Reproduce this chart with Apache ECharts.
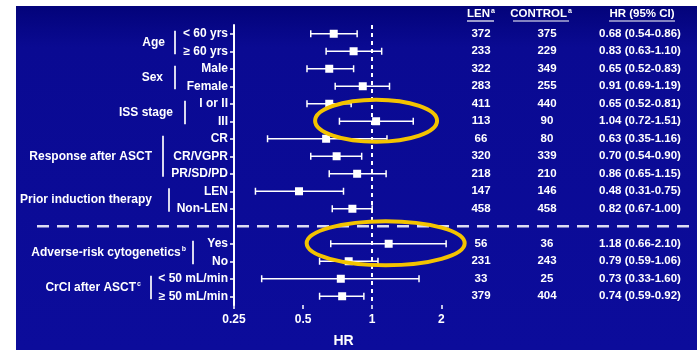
<!DOCTYPE html>
<html>
<head>
<meta charset="utf-8">
<script src="https://cdn.jsdelivr.net/npm/echarts@6/dist/echarts.min.js"></script>
<style>
html,body{margin:0;padding:0;background:#fff;}
#chart{width:697px;height:350px;}
</style>
</head>
<body>
<div id="chart"></div>
<script>
// ---- data ----
const categories = ['< 60 yrs', '≥ 60 yrs', 'Male', 'Female', 'I or II', 'III', 'CR', 'CR/VGPR', 'PR/SD/PD', 'LEN', 'Non-LEN', '', 'Yes', 'No', '< 50 mL/min', '≥ 50 mL/min'];
const hrValues = [0.68, 0.83, 0.65, 0.91, 0.65, 1.04, 0.63, 0.70, 0.86, 0.48, 0.82, null, 1.18, 0.79, 0.73, 0.74];
const ciLow    = [0.54, 0.63, 0.52, 0.69, 0.52, 0.72, 0.35, 0.54, 0.65, 0.31, 0.67, null, 0.66, 0.59, 0.33, 0.59];
const ciHigh   = [0.86, 1.10, 0.83, 1.19, 0.81, 1.51, 1.16, 0.90, 1.15, 0.75, 1.00, null, 2.10, 1.06, 1.60, 0.92];
const lenN     = [372, 233, 322, 283, 411, 113, 66, 320, 218, 147, 458, null, 56, 231, 33, 379];
const controlN = [375, 229, 349, 255, 440, 90, 80, 339, 210, 146, 458, null, 36, 243, 25, 404];
const hrTicks  = [0.25, 0.5, 1, 2];
const groupNames = ['Age', 'Sex', 'ISS stage', 'Response after ASCT', 'Prior induction therapy', 'Adverse-risk cytogenetics', 'CrCl after ASCT'];
const groupSup   = ['', '', '', '', '', 'b', 'c'];
const groupFirst = [0, 2, 4, 6, 9, 12, 14];
const groupLast  = [1, 3, 5, 8, 10, 13, 15];
const highlightedRows = [5, 12];

// ---- layout (pixel positions, not data) ----
const groupLabelRight = [165, 163, 173, 152, 152, 186, 141];
const groupBarX       = [175, 175, 185, 163, 169, 193, 151];
const ellipseSize     = [[61, 21], [79, 22]];
const FONT = '"Liberation Sans", Arial, sans-serif';
const SEP_ROW = 11;

const chart = echarts.init(document.getElementById('chart'));

const fmt = v => v.toFixed(2);
const hrText = categories.map((c, i) => hrValues[i] == null ? '' : fmt(hrValues[i]) + ' (' + fmt(ciLow[i]) + '-' + fmt(ciHigh[i]) + ')');

const forestData = [];
categories.forEach((c, i) => {
  if (hrValues[i] != null) forestData.push([ciLow[i], i, ciHigh[i], hrValues[i]]);
});

function tableAxis(values, offset) {
  return {
    type: 'category', data: categories, inverse: true, position: 'right', offset: offset,
    axisLine: {show: false}, axisTick: {show: false}, splitLine: {show: false},
    axisLabel: {
      interval: 0, margin: 0, align: 'center', color: '#fff', fontWeight: 'bold',
      fontSize: 11.5, fontFamily: FONT,
      formatter: (v, i) => values[i] == null ? '' : String(values[i])
    }
  };
}

chart.setOption({
  backgroundColor: '#ffffff',
  animation: false,
  grid: {left: 234, right: 244, top: 25, bottom: 45, containLabel: false, outerBoundsMode: 'none'},
  xAxis: {
    type: 'log', logBase: 2, min: 0.25, max: 2.25,
    name: 'HR', nameLocation: 'middle', nameGap: 29,
    nameTextStyle: {color: '#fff', fontWeight: 'bold', fontSize: 14, fontFamily: FONT},
    axisLine: {lineStyle: {color: '#fff', width: 2}},
    axisTick: {show: true, length: 4, customValues: hrTicks, lineStyle: {color: '#fff', width: 1.5}},
    axisLabel: {customValues: hrTicks, color: '#fff', fontWeight: 'bold', fontSize: 12, fontFamily: FONT, margin: 9,
      formatter: v => String(v)},
    splitLine: {show: false}, minorTick: {show: false}
  },
  yAxis: [
    {
      type: 'category', data: categories, inverse: true, boundaryGap: true,
      axisLine: {lineStyle: {color: '#fff', width: 2}},
      axisTick: {show: true, length: 4, alignWithLabel: true, interval: (i) => categories[i] !== '', lineStyle: {color: '#fff', width: 1.5}},
      axisLabel: {interval: 0, color: '#fff', fontWeight: 'bold', fontSize: 12, fontFamily: FONT, margin: 6},
      splitLine: {show: false}
    },
    tableAxis(lenN, 28),
    tableAxis(controlN, 94),
    tableAxis(hrText, 187)
  ],
  series: [{
    type: 'custom',
    data: forestData,
    encode: {x: [0, 2, 3], y: 1},
    z: 5,
    renderItem: function (params, api) {
      const row = api.value(1);
      const a = api.coord([api.value(0), row]);
      const b = api.coord([api.value(2), row]);
      const m = api.coord([api.value(3), row]);
      const st = {stroke: '#fff', lineWidth: 1.5};
      const cap = 3.5, sq = 8;
      return {
        type: 'group',
        children: [
          {type: 'line', shape: {x1: a[0], y1: a[1], x2: b[0], y2: b[1]}, style: st},
          {type: 'line', shape: {x1: a[0], y1: a[1] - cap, x2: a[0], y2: a[1] + cap}, style: st},
          {type: 'line', shape: {x1: b[0], y1: b[1] - cap, x2: b[0], y2: b[1] + cap}, style: st},
          {type: 'rect', shape: {x: m[0] - sq / 2, y: m[1] - sq / 2, width: sq, height: sq}, style: {fill: '#fff'}}
        ]
      };
    },
    markLine: {
      silent: true, symbol: 'none', label: {show: false},
      lineStyle: {color: '#fff', width: 2, type: [4, 4]},
      data: [{xAxis: 1}]
    }
  }]
});

// ---- annotations positioned through the axes ----
const rowY = i => chart.convertToPixel({yAxisIndex: 0}, i);
const ptXY = (x, i) => chart.convertToPixel({xAxisIndex: 0, yAxisIndex: 0}, [x, i]);

const graphics = [];
graphics.push({
  type: 'rect', z: -100, silent: true,
  shape: {x: 16, y: 6, width: 681, height: 344},
  style: {fill: new echarts.graphic.LinearGradient(0, 0, 0, 1, [
    {offset: 0, color: '#03037a'}, {offset: 0.12, color: '#0a0a92'}, {offset: 1, color: '#0c0c9b'}
  ])}
});

groupNames.forEach((name, g) => {
  const y1 = rowY(groupFirst[g]), y2 = rowY(groupLast[g]);
  graphics.push({
    type: 'text', z: 10, silent: true,
    style: {
      x: groupLabelRight[g], y: (y1 + y2) / 2,
      text: groupSup[g] ? '{m|' + name + '}{s|' + groupSup[g] + '}' : '{m|' + name + '}',
      align: 'right', verticalAlign: 'middle',
      rich: {
        m: {fill: '#fff', fontWeight: 'bold', fontSize: 12, fontFamily: FONT},
        s: {fill: '#fff', fontWeight: 'bold', fontSize: 7, fontFamily: FONT, verticalAlign: 'top', padding: [0, 0, 6, 1]}
      }
    }
  });
  graphics.push({
    type: 'line', z: 10, silent: true,
    shape: {x1: groupBarX[g], y1: y1 - 3, x2: groupBarX[g], y2: y2 + 3},
    style: {stroke: '#d8d8ee', lineWidth: 2}
  });
});

// separator dashed line
const sepY = rowY(SEP_ROW);
graphics.push({
  type: 'line', z: 10, silent: true,
  shape: {x1: 37, y1: sepY, x2: 697, y2: sepY},
  style: {stroke: '#dcdcf2', lineWidth: 2.5, lineDash: [12, 8]}
});

// table headers
const headers = [
  {cx: 481, main: 'LEN', sup: 'a', u: [467, 494]},
  {cx: 541, main: 'CONTROL', sup: 'a', u: [513, 569]},
  {cx: 642, main: 'HR (95% CI)', sup: '', u: [609, 675]}
];
headers.forEach(h => {
  graphics.push({
    type: 'text', z: 10, silent: true,
    style: {
      x: h.cx, y: 14, align: 'center', verticalAlign: 'middle',
      text: h.sup ? '{m|' + h.main + '}{s|' + h.sup + '}' : '{m|' + h.main + '}',
      rich: {
        m: {fill: '#fff', fontWeight: 'bold', fontSize: 11.5, fontFamily: FONT},
        s: {fill: '#fff', fontWeight: 'bold', fontSize: 7, fontFamily: FONT, verticalAlign: 'top', padding: [0, 0, 5, 1]}
      }
    }
  });
  graphics.push({
    type: 'line', z: 10, silent: true,
    shape: {x1: h.u[0], y1: 21, x2: h.u[1], y2: 21},
    style: {stroke: '#fff', lineWidth: 1.2}
  });
});

// highlight ellipses
highlightedRows.forEach((r, k) => {
  const p = ptXY(hrValues[r], r);
  graphics.push({
    type: 'ellipse', z: 50, silent: true,
    shape: {cx: p[0] - (k === 0 ? 0 : 3), cy: p[1] - 0.5, rx: ellipseSize[k][0], ry: ellipseSize[k][1]},
    style: {fill: null, stroke: '#f3c300', lineWidth: 4}
  });
});

chart.setOption({graphic: graphics});
</script>
</body>
</html>
